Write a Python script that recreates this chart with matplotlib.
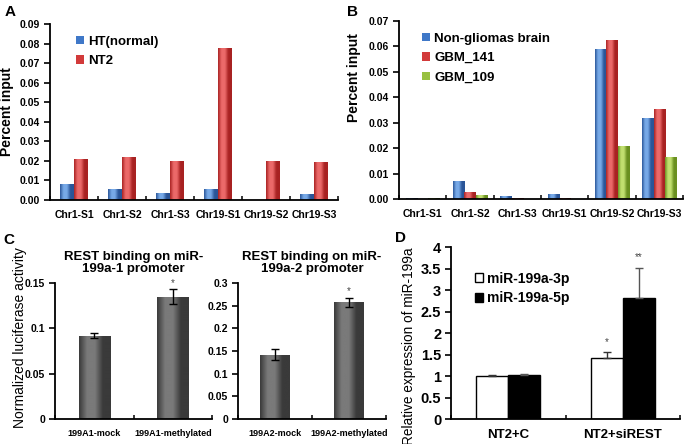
import matplotlib
matplotlib.use('Agg')
import matplotlib.pyplot as plt
import numpy as np
from matplotlib.colors import LinearSegmentedColormap

plt.rcParams['font.family'] = ['Liberation Sans', 'DejaVu Sans']

# panel A
sites = ['Chr1-S1', 'Chr1-S2', 'Chr1-S3', 'Chr19-S1', 'Chr19-S2', 'Chr19-S3']
ht_normal = [0.0080, 0.0055, 0.0035, 0.0055, 0.0, 0.0030]
nt2 = [0.0210, 0.0220, 0.0198, 0.0775, 0.0201, 0.0193]

# panel B
non_glioma = [0.0003, 0.0070, 0.0010, 0.0020, 0.0590, 0.0320]
gbm_141 = [0.0001, 0.0028, 0.0002, 0.0002, 0.0625, 0.0352]
gbm_109 = [0.0003, 0.0015, 0.0001, 0.0, 0.0208, 0.0165]

# panel C
c1_labels = ['199A1-mock', '199A1-methylated']
c1_vals = [0.092, 0.135]
c1_err = [0.003, 0.008]
c2_labels = ['199A2-mock', '199A2-methylated']
c2_vals = [0.142, 0.258]
c2_err = [0.012, 0.010]

# panel D
d_groups = ['NT2+C', 'NT2+siREST']
mir_3p = [1.0, 1.42]
mir_3p_err = [0.02, 0.14]
mir_5p = [1.02, 2.82]
mir_5p_err = [0.02, 0.70]

W, H = 686, 444
fig = plt.figure(figsize=(6.86, 4.44), dpi=100)


def axes_px(l, t, r, b):
    return fig.add_axes([l / W, 1 - b / H, (r - l) / W, (b - t) / H])


def ylabel_at(ax, text, px, py, size, weight='normal'):
    # place the y label at a pixel position of the figure
    bb = ax.get_position()
    l, b, w, h = bb.x0 * W, (1 - bb.y1) * H, bb.width * W, bb.height * H
    ax.set_ylabel(text, fontsize=size, fontweight=weight)
    ax.yaxis.set_label_coords((px - l) / w, 1 - (py - b) / h)


def style(ax):
    for s in ['top', 'right']:
        ax.spines[s].set_visible(False)
    for s in ['left', 'bottom']:
        ax.spines[s].set_linewidth(1.3)
    ax.tick_params(axis='y', direction='out', length=4, width=1.2, pad=3)
    ax.tick_params(axis='x', which='major', length=0, pad=7)
    ax.tick_params(axis='x', which='minor', direction='in', length=3, width=1.1)


def shade(ax, bars, dark, light):
    cmap = LinearSegmentedColormap.from_list('g', [dark, light, light, dark, dark])
    grad = np.linspace(0, 1, 64).reshape(1, -1)
    for b in bars:
        x, w, h = b.get_x(), b.get_width(), b.get_height()
        if h <= 0:
            continue
        im = ax.imshow(grad, cmap=cmap, extent=(x, x + w, 0, h), aspect='auto',
                       zorder=b.get_zorder() + 0.1, interpolation='bicubic')
        im.set_clip_path(b)


def cat_ticks(ax, n):
    ax.set_xticks(np.arange(n))
    ax.set_xticks(np.arange(n + 1) - 0.5, minor=True)
    ax.set_xlim(-0.5, n - 0.5)


# ---- A
axA = axes_px(50, 24, 338, 200)
x = np.arange(len(sites))
bw = 0.29
b1 = axA.bar(x - bw / 2, ht_normal, bw, color='#3f78c8', label='HT(normal)')
b2 = axA.bar(x + bw / 2, nt2, bw, color='#d23a3a', label='NT2')
shade(axA, b1, '#2a5598', '#78aae8')
shade(axA, b2, '#a82222', '#ec6a6a')
cat_ticks(axA, len(sites))
axA.set_ylim(0, 0.09)
axA.set_yticks(np.arange(0, 0.091, 0.01))
axA.set_yticklabels([f'{v:.2f}' for v in np.arange(0, 0.091, 0.01)])
axA.set_xticklabels(sites)
ylabel_at(axA, 'Percent input', 14, 112, 10, 'bold')
style(axA)
for lab in axA.get_xticklabels() + axA.get_yticklabels():
    lab.set_fontweight('bold')
    lab.set_fontsize(7.5)
axA.legend(loc='upper left', bbox_to_anchor=(0.05, 1.0), frameon=False,
           prop={'weight': 'bold', 'size': 9.5}, handlelength=0.6,
           handleheight=0.6, handletextpad=0.3, labelspacing=0.55)

# ---- B
axB = axes_px(399, 21, 683, 199)
bw = 0.24
b1 = axB.bar(x - bw, non_glioma, bw, color='#3f78c8', label='Non-gliomas brain')
b2 = axB.bar(x, gbm_141, bw, color='#d23a3a', label='GBM_141')
b3 = axB.bar(x + bw, gbm_109, bw, color='#98c040', label='GBM_109')
shade(axB, b1, '#2a5598', '#78aae8')
shade(axB, b2, '#a82222', '#ec6a6a')
shade(axB, b3, '#6a9020', '#c2e070')
cat_ticks(axB, len(sites))
axB.set_ylim(0, 0.07)
axB.set_yticks(np.arange(0, 0.071, 0.01))
axB.set_yticklabels([f'{v:.2f}' for v in np.arange(0, 0.071, 0.01)])
axB.set_xticklabels(sites)
ylabel_at(axB, 'Percent input', 361, 78, 10, 'bold')
style(axB)
for lab in axB.get_xticklabels() + axB.get_yticklabels():
    lab.set_fontweight('bold')
    lab.set_fontsize(7.5)
axB.legend(loc='upper left', bbox_to_anchor=(0.04, 1.0), frameon=False,
           prop={'weight': 'bold', 'size': 9.5}, handlelength=0.6,
           handleheight=0.6, handletextpad=0.3, labelspacing=0.55)


# ---- C
def panel_c(ax, labels, vals, err, ymax, yticks, yticklabels, title):
    xc = np.arange(len(labels))
    bars = ax.bar(xc, vals, 0.4, color='#555555', yerr=err, capsize=3,
                  error_kw={'elinewidth': 1, 'capthick': 1, 'ecolor': 'black', 'zorder': 5})
    shade(ax, bars, '#3a3a3a', '#7a7a7a')
    cat_ticks(ax, len(labels))
    ax.set_ylim(0, ymax)
    ax.set_yticks(yticks)
    ax.set_yticklabels(yticklabels)
    ax.set_xticklabels(labels)
    style(ax)
    for lab in ax.get_yticklabels():
        lab.set_fontweight('bold')
        lab.set_fontsize(7.5)
    for lab in ax.get_xticklabels():
        lab.set_fontsize(6.5)
        lab.set_fontweight('bold')
    ax.set_title(title, fontsize=9.5, fontweight='bold', pad=8, linespacing=1.0)
    ax.text(xc[1], vals[1] + err[1] + ymax * 0.01, '*', ha='center', va='bottom',
            fontsize=7, color='#444444')


axC1 = axes_px(55, 283, 212, 419)
panel_c(axC1, c1_labels, c1_vals, c1_err, 0.15, [0, 0.05, 0.1, 0.15],
        ['0', '0.05', '0.1', '0.15'], 'REST binding on miR-\n199a-1 promoter')
ylabel_at(axC1, 'Normalized luciferase activity', 27, 338, 10)

axC2 = axes_px(238, 283, 386, 419)
panel_c(axC2, c2_labels, c2_vals, c2_err, 0.3, [0, 0.05, 0.1, 0.15, 0.2, 0.25, 0.3],
        ['0', '0.05', '0.1', '0.15', '0.2', '0.25', '0.3'],
        'REST binding on miR-\n199a-2 promoter')

# ---- D
axD = axes_px(451, 247, 680, 419)
xd = np.arange(len(d_groups))
bw = 0.28
axD.bar(xd - bw / 2, mir_3p, bw, color='white', edgecolor='black', linewidth=1,
        label='miR-199a-3p', yerr=[[0, 0], mir_3p_err], capsize=3,
        error_kw={'elinewidth': 1, 'capthick': 1, 'ecolor': '#333333'})
axD.bar(xd + bw / 2, mir_5p, bw, color='black', edgecolor='black', linewidth=1,
        label='miR-199a-5p', yerr=[[0, 0], mir_5p_err], capsize=3,
        error_kw={'elinewidth': 1, 'capthick': 1, 'ecolor': '#555555'})
cat_ticks(axD, len(d_groups))
axD.set_ylim(0, 4)
axD.set_yticks(np.arange(0, 4.01, 0.5))
axD.set_yticklabels(['0', '0.5', '1', '1.5', '2', '2.5', '3', '3.5', '4'])
axD.set_xticklabels(d_groups)
ylabel_at(axD, 'Relative expression of miR-199a', 416, 346, 9.8)
style(axD)
for lab in axD.get_yticklabels():
    lab.set_fontweight('bold')
    lab.set_fontsize(10.5)
for lab in axD.get_xticklabels():
    lab.set_fontweight('bold')
    lab.set_fontsize(9.5)
axD.text(xd[1] - bw / 2, mir_3p[1] + mir_3p_err[1] + 0.12, '*', ha='center',
         va='bottom', fontsize=7, color='#444444')
axD.text(xd[1] + bw / 2, mir_5p[1] + mir_5p_err[1] + 0.12, '**', ha='center',
         va='bottom', fontsize=7, color='#444444')
axD.legend(loc='upper left', bbox_to_anchor=(0.05, 0.93), frameon=False,
           prop={'weight': 'bold', 'size': 10}, handlelength=0.6,
           handleheight=0.6, handletextpad=0.3, labelspacing=0.4)

# panel letters
for s, px, py in [('A', 10, 12), ('B', 352, 12), ('C', 9, 240), ('D', 400, 238)]:
    fig.text(px / W, 1 - py / H, s, fontsize=11, fontweight='bold', ha='center', va='center')

fig.savefig('out.png', dpi=100)
